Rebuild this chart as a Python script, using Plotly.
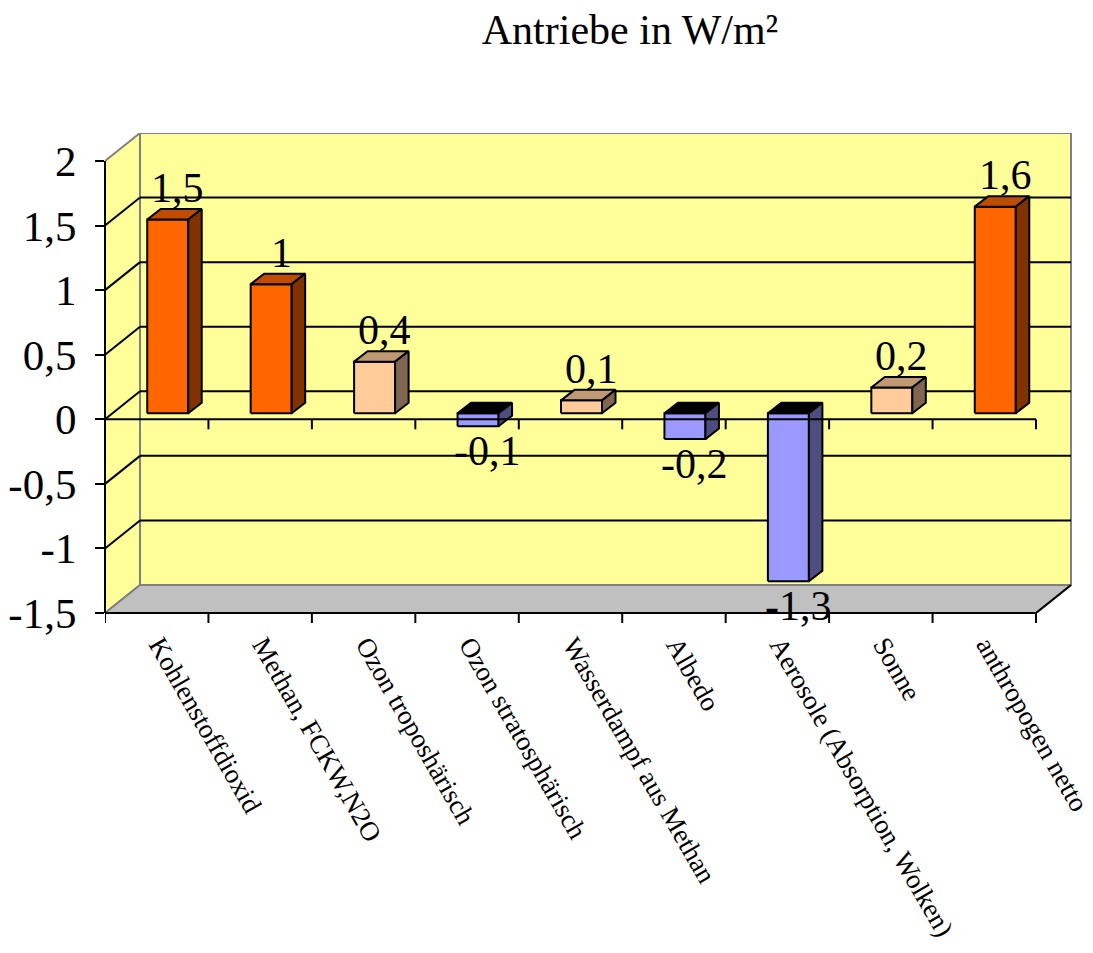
import plotly.graph_objects as go

# ---------------- data ----------------
categories = [
    "Kohlenstoffdioxid",
    "Methan, FCKW,N2O",
    "Ozon troposhärisch",
    "Ozon stratosphärisch",
    "Wasserdampf aus Methan",
    "Albedo",
    "Aerosole (Absorption, Wolken)",
    "Sonne",
    "anthropogen netto",
]
values = [1.5, 1.0, 0.4, -0.1, 0.1, -0.2, -1.3, 0.2, 1.6]
y_ticks = [-1.5, -1, -0.5, 0, 0.5, 1, 1.5, 2]
y_tick_labels = ["-1,5", "-1", "-0,5", "0", "0,5", "1", "1,5", "2"]
title_text = "Antriebe in W/m²"

# ---------------- geometry (pixels -> data units) ----------------
W, H = 1093, 953
L, R, T, B = 105, 21, 133, 340
PXX = (1036 - 105) / 9.0        # px per category
PXY = (613 - 161) / 3.5         # px per W/m²
x_lo, y_lo = -0.5, -1.5
x_hi = x_lo + (W - L - R) / PXX
y_hi = y_lo + (H - T - B) / PXY
n = len(categories)
x_end = n - 0.5
y_top = 2.0

DX, DY = 35 / PXX, 28 / PXY          # wall depth
OX, OY = 11 / PXX, 6 / PXY           # bar front-face offset
HW = 20.5 / PXX                      # bar half width
BX, BY = 13.5 / PXX, 10.5 / PXY      # bar depth
LABEL_SHIFT = 3 / PXX                # category label anchor offset

YELLOW = "#FFFF99"
GREY = "#808080"
FONT = "Liberation Serif"


def bar_colors(v):
    if v < 0:
        return "#9999FF", "#000000", "#4D4D80"
    if v >= 1:
        return "#FF6600", "#BF4C00", "#803300"
    return "#FFCC99", "#BF9973", "#806650"


fig = go.Figure()

# ---------------- walls & grid (below) ----------------
shapes = []
shapes.append(dict(type="rect", xref="x", yref="y", layer="below",
                   x0=x_lo + DX, x1=x_end + DX, y0=y_lo + DY, y1=y_top + DY,
                   fillcolor=YELLOW, line=dict(color=GREY, width=2)))
shapes.append(dict(type="path", xref="x", yref="y", layer="below",
                   path=f"M {x_lo},{y_lo} L {x_lo},{y_top} L {x_lo+DX},{y_top+DY} L {x_lo+DX},{y_lo+DY} Z",
                   fillcolor=YELLOW, line=dict(color=GREY, width=2)))
shapes.append(dict(type="path", xref="x", yref="y", layer="below",
                   path=f"M {x_lo},{y_lo} L {x_end},{y_lo} L {x_end+DX},{y_lo+DY} L {x_lo+DX},{y_lo+DY} Z",
                   fillcolor="#C0C0C0", line=dict(color=GREY, width=2)))
shapes.append(dict(type="line", xref="x", yref="y", layer="below",
                   x0=x_end, y0=y_lo, x1=x_end + DX, y1=y_lo + DY,
                   line=dict(color="black", width=2)))
for v in y_ticks[1:-1]:
    shapes.append(dict(type="line", xref="x", yref="y", layer="below",
                       x0=x_lo + DX, x1=x_end + DX, y0=v + DY, y1=v + DY,
                       line=dict(color="black", width=2)))
    shapes.append(dict(type="line", xref="x", yref="y", layer="below",
                       x0=x_lo, x1=x_lo + DX, y0=v, y1=v + DY,
                       line=dict(color="black", width=2)))

# ---------------- bars ----------------
for i, v in enumerate(values):
    front, top, side = bar_colors(v)
    x0 = i + OX - HW
    x1 = i + OX + HW
    yb = min(0.0, v) + OY
    yt = max(0.0, v) + OY
    polys = [
        ([x0, x1, x1, x0, x0], [yb, yb, yt, yt, yb], front),
        ([x0, x1, x1 + BX, x0 + BX, x0], [yt, yt, yt + BY, yt + BY, yt], top),
        ([x1, x1 + BX, x1 + BX, x1, x1], [yb, yb + BY, yt + BY, yt, yb], side),
    ]
    for xs, ys, col in polys:
        fig.add_trace(go.Scatter(x=xs, y=ys, mode="lines", fill="toself",
                                 fillcolor=col, line=dict(color="black", width=2),
                                 hoverinfo="skip", showlegend=False))

# ---------------- front axes (above) ----------------
shapes.append(dict(type="line", xref="x", yref="y", layer="above",
                   x0=x_lo, x1=x_end, y0=0, y1=0, line=dict(color="black", width=2)))
for k in range(1, n + 1):
    xb = k - 0.5
    shapes.append(dict(type="line", xref="x", yref="y", layer="above",
                       x0=xb, x1=xb, y0=0, y1=-10 / PXY, line=dict(color="black", width=2)))
for k in range(0, n + 1):
    xb = k - 0.5
    shapes.append(dict(type="line", xref="x", yref="paper", layer="above",
                       x0=xb, x1=xb, y0=0, y1=-10 / (H - T - B),
                       line=dict(color="black", width=2)))
shapes.append(dict(type="line", xref="paper", yref="y", layer="above",
                   x0=0, x1=0, y0=y_lo, y1=y_top, line=dict(color="black", width=2)))
shapes.append(dict(type="line", xref="x", yref="paper", layer="above",
                   x0=x_lo, x1=x_end, y0=0, y1=0, line=dict(color="black", width=2)))

# ---------------- value labels ----------------
annotations = []
for i, v in enumerate(values):
    txt = f"{v:g}".replace(".", ",")
    if v >= 0:
        annotations.append(dict(x=i + OX + BX / 2 + 0.03, y=v + OY + BY, xref="x", yref="y",
                                text=txt, showarrow=False, yanchor="bottom", yshift=-4,
                                font=dict(family=FONT, size=42, color="black")))
    else:
        annotations.append(dict(x=i + OX + BX / 2 + 0.03, y=v + OY, xref="x", yref="y",
                                text=txt, showarrow=False, yanchor="top", yshift=0,
                                font=dict(family=FONT, size=42, color="black")))

fig.update_layout(
    template="none",
    width=W, height=H,
    margin=dict(l=L, r=R, t=T, b=B, pad=0, autoexpand=False),
    paper_bgcolor="white", plot_bgcolor="white",
    font=dict(family=FONT, color="black"),
    showlegend=False,
    shapes=shapes,
    annotations=annotations,
    title=dict(text=title_text, x=630 / W, xref="container", xanchor="center",
               y=1 - 29 / H, yref="container", yanchor="middle",
               font=dict(family=FONT, size=42, color="black")),
    xaxis=dict(range=[x_lo, x_hi], tickvals=[i + LABEL_SHIFT for i in range(n)],
               ticktext=categories,
               tickangle=60, ticks="", showgrid=False, zeroline=False, showline=False,
               automargin=False, ticklabelstandoff=10, ticklabeloverflow="allow",
               tickfont=dict(family=FONT, size=27, color="black")),
    yaxis=dict(range=[y_lo, y_hi], tickvals=y_ticks, ticktext=y_tick_labels,
               ticks="outside", ticklen=9, tickwidth=2, tickcolor="black",
               showgrid=False, zeroline=False, showline=False, ticklabelstandoff=10,
               automargin=False, ticklabeloverflow="allow",
               tickfont=dict(family=FONT, size=43, color="black")),
)

fig.write_html("out.html")
